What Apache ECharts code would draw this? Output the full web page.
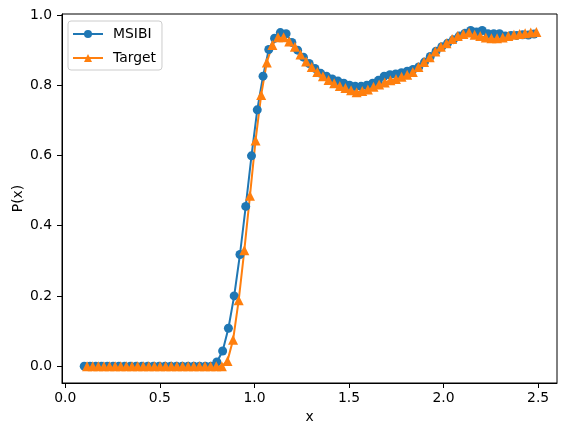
<!DOCTYPE html>
<html>
<head>
<meta charset="utf-8">
<script src="https://cdn.jsdelivr.net/npm/echarts@6/dist/echarts.min.js"></script>
<style>
  html, body { margin: 0; padding: 0; background: #fff; }
  #chart { width: 567px; height: 436px; }
</style>
</head>
<body>
<div id="chart"></div>
<script>
// MSIBI curve
const msibiX = [0.1, 0.1305, 0.161, 0.1915, 0.222, 0.2525, 0.283, 0.3135, 0.344, 0.3745,
  0.405, 0.4355, 0.466, 0.4965, 0.527, 0.5575, 0.588, 0.6185, 0.649, 0.6795,
  0.71, 0.7405, 0.771, 0.8015, 0.832, 0.8625, 0.893, 0.9235, 0.954, 0.9845,
  1.015, 1.0455, 1.076, 1.1065, 1.137, 1.1675, 1.198, 1.2285, 1.259, 1.2895,
  1.32, 1.3505, 1.381, 1.4115, 1.442, 1.4725, 1.503, 1.5335, 1.564, 1.5945,
  1.625, 1.6555, 1.686, 1.7165, 1.747, 1.7775, 1.808, 1.8385, 1.869, 1.8995,
  1.93, 1.9605, 1.991, 2.0215, 2.052, 2.0825, 2.113, 2.1435, 2.174, 2.2045,
  2.235, 2.2655, 2.296, 2.3265, 2.357, 2.3875, 2.418, 2.4485, 2.479];
const msibiY = [0, 0, 0, 0, 0, 0, 0, 0, 0, 0,
  0, 0, 0, 0, 0, 0, 0, 0, 0, 0,
  0, 0, 0, 0.012, 0.043, 0.108, 0.200, 0.318, 0.455, 0.599,
  0.730, 0.826, 0.902, 0.934, 0.950, 0.947, 0.922, 0.900, 0.880, 0.862,
  0.848, 0.834, 0.826, 0.818, 0.812, 0.806, 0.800, 0.797, 0.797, 0.800,
  0.806, 0.814, 0.826, 0.830, 0.832, 0.836, 0.840, 0.845, 0.852, 0.866,
  0.882, 0.897, 0.910, 0.920, 0.930, 0.940, 0.948, 0.956, 0.952, 0.956,
  0.947, 0.947, 0.947, 0.940, 0.942, 0.942, 0.944, 0.943, 0.946];

// Target curve
const targetX = [0.115, 0.1447, 0.1744, 0.2041, 0.2338, 0.2635, 0.2932, 0.3229, 0.3526, 0.3823,
  0.412, 0.4417, 0.4714, 0.5011, 0.5308, 0.5605, 0.5902, 0.6199, 0.6496, 0.6793,
  0.709, 0.7387, 0.7684, 0.7981, 0.8278, 0.8575, 0.8872, 0.9169, 0.9466, 0.9763,
  1.006, 1.0357, 1.0654, 1.0951, 1.1248, 1.1545, 1.1842, 1.2139, 1.2436, 1.2733,
  1.303, 1.3327, 1.3624, 1.3921, 1.4218, 1.4515, 1.4812, 1.5109, 1.5406, 1.5703,
  1.6, 1.6297, 1.6594, 1.6891, 1.7188, 1.7485, 1.7782, 1.8079, 1.8376, 1.8673,
  1.897, 1.9267, 1.9564, 1.9861, 2.0158, 2.0455, 2.0752, 2.1049, 2.1346, 2.1643,
  2.194, 2.2237, 2.2534, 2.2831, 2.3128, 2.3425, 2.3722, 2.4019, 2.4316, 2.4613,
  2.491];
const targetY = [0, 0, 0, 0, 0, 0, 0, 0, 0, 0,
  0, 0, 0, 0, 0, 0, 0, 0, 0, 0,
  0, 0, 0, 0, 0, 0.015, 0.075, 0.188, 0.330, 0.485,
  0.643, 0.772, 0.865, 0.915, 0.937, 0.937, 0.925, 0.910, 0.888, 0.868,
  0.852, 0.838, 0.826, 0.815, 0.806, 0.798, 0.792, 0.786, 0.780, 0.784,
  0.788, 0.796, 0.802, 0.808, 0.814, 0.818, 0.824, 0.830, 0.838, 0.852,
  0.866, 0.880, 0.896, 0.910, 0.920, 0.932, 0.940, 0.946, 0.950, 0.944,
  0.940, 0.936, 0.934, 0.934, 0.936, 0.940, 0.944, 0.946, 0.948, 0.950,
  0.952];

const xTicks = [0, 0.5, 1.0, 1.5, 2.0, 2.5];
const yTicks = [0, 0.2, 0.4, 0.6, 0.8, 1.0];

const font = 'DejaVu Sans';
const zip = (xs, ys) => xs.map((x, i) => [x, ys[i]]);

const chart = echarts.init(document.getElementById('chart'));
chart.setOption({
  animation: false,
  grid: {
    left: 62, right: 10, top: 14, bottom: 53,
    show: true, borderColor: '#000', borderWidth: 1
  },
  legend: {
    orient: 'vertical',
    left: 68, top: 21,
    padding: [6, 6, 5, 4],
    itemWidth: 30, itemHeight: 10, itemGap: 10,
    backgroundColor: 'rgba(255,255,255,0.8)',
    borderColor: '#cccccc', borderWidth: 1, borderRadius: 3,
    textStyle: { fontFamily: font, fontSize: 13.9, color: '#000', padding: [0, 0, 0, 5] },
    data: ['MSIBI', 'Target']
  },
  xAxis: {
    type: 'value', min: -0.0175, max: 2.6,
    name: 'x', nameLocation: 'middle', nameGap: 27, nameMoveOverlap: false,
    nameTextStyle: { fontFamily: font, fontSize: 13.9, color: '#000' },
    axisLine: { onZero: false, lineStyle: { color: '#000', width: 1 } },
    axisTick: { show: true, length: 5, lineStyle: { color: '#000' }, customValues: xTicks },
    axisLabel: { fontFamily: font, fontSize: 13.9, color: '#000', margin: 8,
      customValues: xTicks, formatter: v => v.toFixed(1) },
    splitLine: { show: false }
  },
  yAxis: {
    type: 'value', min: -0.048, max: 1.003,
    name: 'P(x)', nameLocation: 'middle', nameGap: 37, nameMoveOverlap: false,
    nameTextStyle: { fontFamily: font, fontSize: 13.9, color: '#000' },
    axisLine: { show: true, onZero: false, lineStyle: { color: '#000', width: 1 } },
    axisTick: { show: true, length: 5, lineStyle: { color: '#000' }, customValues: yTicks },
    axisLabel: { fontFamily: font, fontSize: 13.9, color: '#000', margin: 10,
      customValues: yTicks, formatter: v => v.toFixed(1) },
    splitLine: { show: false }
  },
  series: [
    {
      name: 'MSIBI', type: 'line', data: zip(msibiX, msibiY),
      symbol: 'circle', symbolSize: 9, showAllSymbol: true,
      color: '#1f77b4', lineStyle: { width: 2 }
    },
    {
      name: 'Target', type: 'line', data: zip(targetX, targetY),
      symbol: 'triangle', symbolSize: 10, showAllSymbol: true,
      color: '#ff7f0e', lineStyle: { width: 2 }
    }
  ]
});
</script>
</body>
</html>
